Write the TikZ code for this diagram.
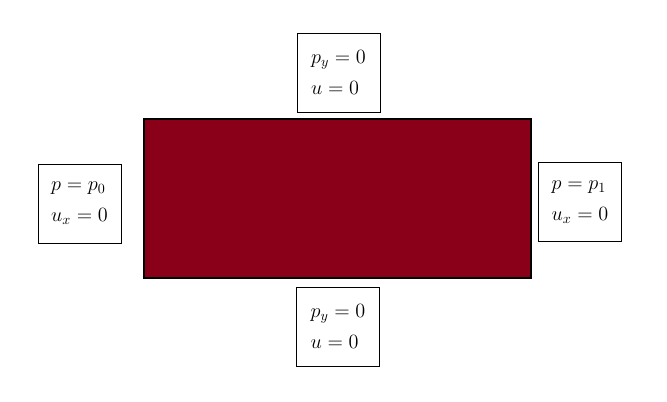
\documentclass[tikz,border=0pt]{standalone}
\usepackage{tikz}
\definecolor{darkwine}{RGB}{139,0,25}

\begin{document}
\begin{tikzpicture}[
        bc/.style={draw, line width=0.6pt, minimum width=2.075cm, minimum height=1.975cm,
            align=left, font=\fontsize{14.5}{22}\selectfont, inner sep=0pt},
        slab/.style={draw, line width=1.2pt, fill=darkwine, minimum width=9.675cm, minimum height=3.975cm}
    ]
        \useasboundingbox (0, 0) rectangle (16.675, -10.05);
        \node[slab] (dom) at (8.4375, -4.9625) {};
        \node[bc] (top) at (8.4625, -1.8125) {$p_y = 0$\\$u = 0$};
        \node[bc] (left) at (1.9875, -5.0875) {$p = p_0$\\$u_x = 0$};
        \node[bc] (right) at (14.5, -5.05) {$p = p_1$\\$u_x = 0$};
        \node[bc] (bottom) at (8.45, -8.1625) {$p_y = 0$\\$u = 0$};
    \end{tikzpicture}
\end{document}
